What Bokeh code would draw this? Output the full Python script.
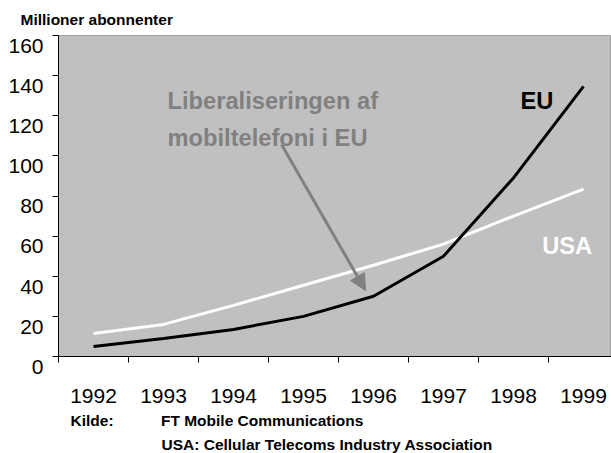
from bokeh.plotting import figure
from bokeh.models import FixedTicker, Arrow, NormalHead, Range1d, Title
from bokeh.core.properties import value
from bokeh.embed import file_html
from bokeh.resources import INLINE

years = [1992, 1993, 1994, 1995, 1996, 1997, 1998, 1999]
eu = [5, 9, 13.5, 20, 30, 50, 89, 134.6]
usa = [11.5, 16, 25.5, 35.5, 45.5, 56, 70, 83.4]
y_ticks = [0, 20, 40, 60, 80, 100, 120, 140, 160]
year_bounds = [1991.5, 1992.5, 1993.5, 1994.5, 1995.5, 1996.5, 1997.5, 1998.5, 1999.5]

FONT = "Liberation Sans"
NB = "\u00a0"

p = figure(width=611, height=453, output_backend="svg", toolbar_location=None,
           x_range=Range1d(1991.5, 1999.4), y_range=Range1d(0, 160),
           min_border_left=58, min_border_right=0, min_border_top=35, min_border_bottom=97)

p.background_fill_color = "#C0C0C0"
p.border_fill_color = "white"
p.outline_line_color = "#A0A0A0"
p.xgrid.visible = False
p.ygrid.visible = False

# y axis (labels sit a little below their ticks, as in the original)
p.yaxis.ticker = FixedTicker(ticks=y_ticks, minor_ticks=[])
p.yaxis.major_label_overrides = {t: "\n" + str(t) for t in y_ticks}
p.yaxis.major_label_text_line_height = 0.85
p.yaxis.axis_line_color = "black"
p.yaxis.major_tick_line_color = "black"
p.yaxis.major_tick_out = 6
p.yaxis.major_tick_in = 0
p.yaxis.minor_tick_line_color = None
p.yaxis.major_label_text_font = FONT
p.yaxis.major_label_text_font_size = "21px"
p.yaxis.major_label_text_color = "black"
p.yaxis.major_label_standoff = 9

# x axis: labels at the years, ticks between them
p.xaxis.ticker = FixedTicker(ticks=years, minor_ticks=year_bounds)
p.xaxis.axis_line_color = "black"
p.xaxis.major_tick_line_color = None
p.xaxis.major_tick_out = 6
p.xaxis.major_tick_in = 0
p.xaxis.minor_tick_line_color = "black"
p.xaxis.minor_tick_out = 6
p.xaxis.minor_tick_in = 0
p.xaxis.major_label_text_font = FONT
p.xaxis.major_label_text_font_size = "21px"
p.xaxis.major_label_text_color = "black"
p.xaxis.major_label_standoff = 26

# series
p.line(years, usa, line_color="white", line_width=3)
p.line(years, eu, line_color="black", line_width=3)

# series labels
p.text(x=[1998.1], y=[127.6], text=["EU"], text_font=value(FONT), text_font_style="bold",
       text_font_size="23.7px", text_color="black", text_baseline="alphabetic")
p.text(x=[1998.41], y=[55.0], text=["USA"], text_font=value(FONT), text_font_style="bold",
       text_font_size="23.7px", text_color="white", text_baseline="alphabetic")

# annotation
p.text(x=[1993.057, 1993.057], y=[127.6, 108.7],
       text=["Liberaliseringen af", "mobiltelefoni i EU"],
       text_font=value(FONT), text_font_style="bold", text_font_size="23.7px",
       text_color="#808080", text_baseline="alphabetic")
p.add_layout(Arrow(x_start=1994.686, y_start=105.7, x_end=1995.886, y_end=32.9,
                   line_color="#808080", line_width=3,
                   end=NormalHead(size=16, fill_color="#808080", line_color="#808080")))

# title above, sources below
p.title = Title(text="Millioner abonnenter", align="left", offset=-38, standoff=15,
                text_font=FONT, text_font_style="bold", text_font_size="15.5px",
                text_color="black")
p.add_layout(Title(text="Kilde:" + NB * 11 + "FT Mobile Communications", align="left",
                   offset=12, standoff=9, text_font=FONT, text_font_style="bold",
                   text_font_size="15.5px", text_color="black"), "below")
p.add_layout(Title(text="USA: Cellular Telecoms Industry Association", align="left",
                   offset=103, standoff=0, text_font=FONT, text_font_style="bold",
                   text_font_size="15.5px", text_color="black"), "below")

open("out.html", "w").write(file_html(p, INLINE))
